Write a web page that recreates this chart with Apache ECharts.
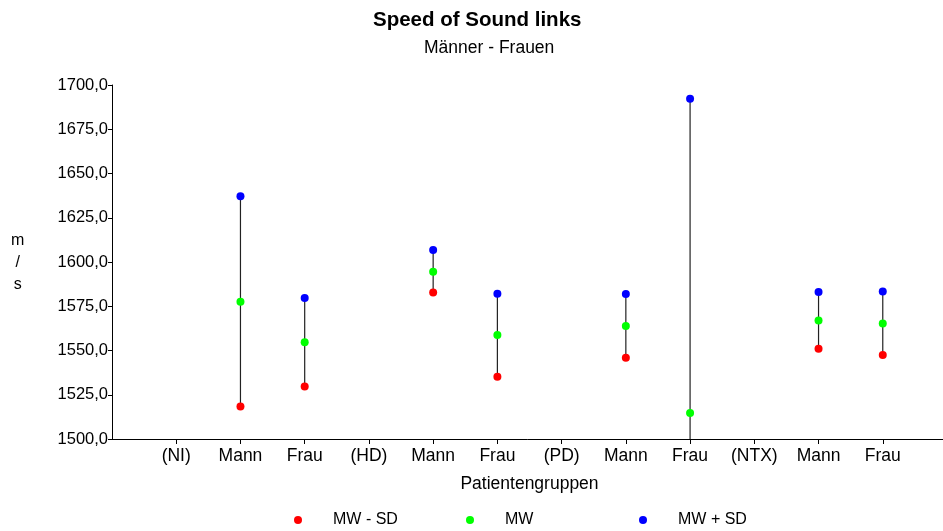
<!DOCTYPE html>
<html><head><meta charset="utf-8">
<script src="https://cdn.jsdelivr.net/npm/echarts@6/dist/echarts.min.js"></script>
<style>html,body{margin:0;padding:0;background:#fff}#c{width:943px;height:531px}</style>
</head><body><div id="c"></div>
<script>
var categories = ['', '(NI)', 'Mann', 'Frau', '(HD)', 'Mann', 'Frau', '(PD)', 'Mann', 'Frau', '(NTX)', 'Mann', 'Frau', ''];
var mwMinusSD = [null, null, 1518.3, 1529.6, null, 1582.7, 1535.2, null, 1545.9, 1337.1, null, 1551.0, 1547.5, null];
var mw        = [null, null, 1577.6, 1554.6, null, 1594.5, 1558.8, null, 1563.8, 1514.7, null, 1567.0, 1565.3, null];
var mwPlusSD  = [null, null, 1637.1, 1579.7, null, 1606.8, 1582.1, null, 1581.9, 1692.3, null, 1583.1, 1583.4, null];
var yTicks = {min: 1500, max: 1700, interval: 25};

var rangeData = [];
for (var i = 0; i < categories.length; i++) {
  if (mwMinusSD[i] != null && mwPlusSD[i] != null) rangeData.push([i, mwMinusSD[i], mwPlusSD[i]]);
}
var font = 'Liberation Sans, Arial, sans-serif';
var chart = echarts.init(document.getElementById('c'));
function leg(name, left) {
  return {data: [name], left: left, top: 507, itemWidth: 60, itemHeight: 8, icon: 'circle',
    textStyle: {fontFamily: font, fontSize: 16, color: '#000', padding: [0,0,0,0]}, selectedMode: false};
}
chart.setOption({
  animation: false,
  title: [
    {text: 'Speed of Sound links', left: 373, top: 10, padding: 0,
      textStyle: {fontFamily: font, fontSize: 20.5, fontWeight: 'bold', color: '#000'}},
    {text: 'Männer - Frauen', left: 424, top: 39, padding: 0,
      textStyle: {fontFamily: font, fontSize: 17.5, fontWeight: 'normal', color: '#000'}}
  ],
  graphic: [{type: 'text', left: 11, top: 230, style: {text: 'm\n/\ns', font: '16px ' + font, fill: '#000', textAlign: 'center', lineHeight: 22}}],
  legend: [leg('MW - SD', 289), leg('MW', 461), leg('MW + SD', 634)],
  grid: {left: 112, width: 835, top: 85, bottom: 92, containLabel: false, outerBoundsMode: 'none'},
  xAxis: {type: 'category', data: categories, boundaryGap: false,
    name: 'Patientengruppen', nameLocation: 'middle', nameGap: 36,
    nameTextStyle: {fontFamily: font, fontSize: 17.5, color: '#000'},
    axisLine: {lineStyle: {color: '#000', width: 1}},
    axisTick: {show: true, length: 5, lineStyle: {color: '#000'}, interval: function(i){return i > 0 && i < categories.length - 1;}},
    axisLabel: {fontFamily: font, fontSize: 17.5, color: '#000', margin: 8, interval: 0},
    splitLine: {show: false}},
  yAxis: {type: 'value', min: yTicks.min, max: yTicks.max, interval: yTicks.interval,
    axisLine: {show: true, lineStyle: {color: '#000', width: 1}},
    axisTick: {show: true, length: 4, lineStyle: {color: '#000'}},
    axisLabel: {fontFamily: font, fontSize: 16.5, color: '#000', margin: 4,
      formatter: function(v){return v.toFixed(1).replace('.', ',');}},
    splitLine: {show: false}},
  series: [
    {type: 'custom', name: 'range', clip: true, silent: true, data: rangeData,
      renderItem: function(params, api) {
        var a = api.coord([api.value(0), api.value(1)]);
        var b = api.coord([api.value(0), api.value(2)]);
        return {type: 'line', shape: {x1: a[0], y1: a[1], x2: b[0], y2: b[1]}, style: {stroke: '#222', lineWidth: 1.2}};
      }, z: 1},
    {type: 'scatter', name: 'MW - SD', data: mwMinusSD, symbol: 'circle', symbolSize: 8, itemStyle: {color: '#ff0000', opacity: 1}, clip: true, z: 3},
    {type: 'scatter', name: 'MW', data: mw, symbol: 'circle', symbolSize: 8, itemStyle: {color: '#00ff00', opacity: 1}, clip: true, z: 3},
    {type: 'scatter', name: 'MW + SD', data: mwPlusSD, symbol: 'circle', symbolSize: 8, itemStyle: {color: '#0000ff', opacity: 1}, clip: true, z: 3}
  ]
});
</script></body></html>
